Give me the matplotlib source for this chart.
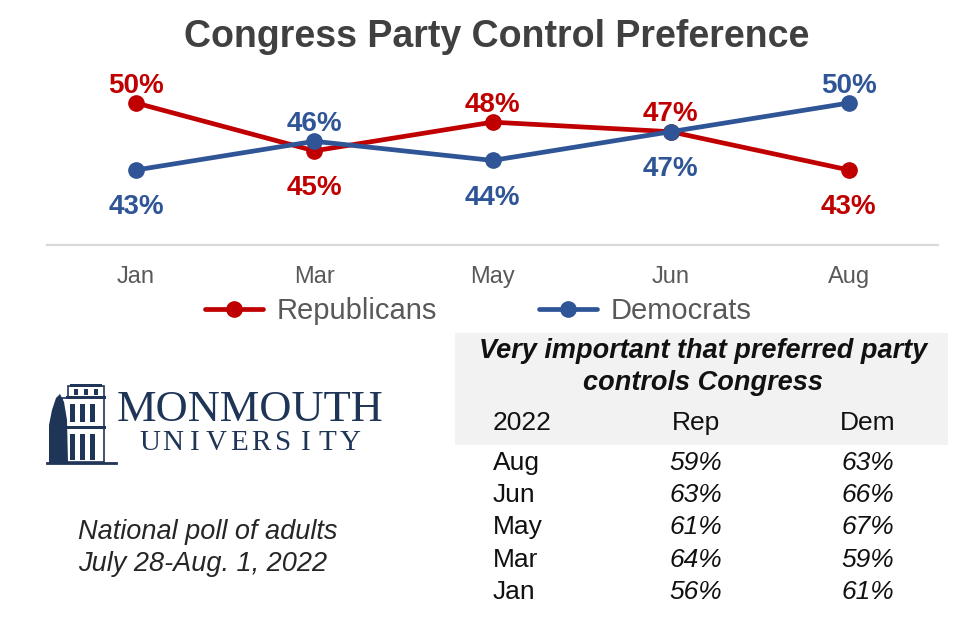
import matplotlib
matplotlib.use("Agg")
import matplotlib.pyplot as plt
from matplotlib.patches import Rectangle, Polygon
from matplotlib.lines import Line2D

# ---------------- data ----------------
months = ["Jan", "Mar", "May", "Jun", "Aug"]
republicans = [50, 45, 48, 47, 43]
democrats = [43, 46, 44, 47, 50]

chart_title = "Congress Party Control Preference"
table_title = "Very important that preferred party\ncontrols Congress"
table_header = ["2022", "Rep", "Dem"]
table_months = ["Aug", "Jun", "May", "Mar", "Jan"]
table_rep = [59, 63, 61, 64, 56]
table_dem = [63, 66, 67, 59, 61]
footnote = "National poll of adults\nJuly 28-Aug. 1, 2022"

# ---------------- style ----------------
W, H = 980, 624
RED = "#C00000"
BLUE = "#2F5597"
NAVY = "#1F3557"
GREY = "#595959"

plt.rcParams["font.family"] = ["Liberation Sans", "DejaVu Sans"]
fig = plt.figure(figsize=(W / 100, H / 100), dpi=100)
fig.patch.set_facecolor("white")


def fx(x):
    return x / W


def fy(y):
    return 1 - y / H


# ---------------- title ----------------
fig.text(fx(497), fy(37), chart_title, ha="center", va="center",
         fontsize=27, fontweight="bold", color="#404040")

# ---------------- line chart ----------------
ax_left, ax_right, ax_top, ax_bottom = 47, 938, 70, 245
ax = fig.add_axes([fx(ax_left), fy(ax_bottom),
                   (ax_right - ax_left) / W, (ax_bottom - ax_top) / H])
xs = list(range(len(months)))
ax.plot(xs, republicans, color=RED, lw=3.4, marker="o", ms=11,
        label="Republicans", zorder=3, solid_capstyle="round")
ax.plot(xs, democrats, color=BLUE, lw=3.4, marker="o", ms=11,
        label="Democrats", zorder=4, solid_capstyle="round")
ax.set_xlim(-0.5, len(months) - 0.5)
ax.set_ylim(35.16, 53.45)

for i in xs:
    r, d = republicans[i], democrats[i]
    r_above = r >= d
    for val, col, above in ((r, RED, r_above), (d, BLUE, not r_above)):
        off = 7.5 if above else -32
        ax.annotate(f"{val}%", (i, val), xytext=(0, off),
                    textcoords="offset points", ha="center", va="baseline",
                    fontsize=20, fontweight="bold", color=col, zorder=5)

ax.set_xticks(xs)
ax.set_xticklabels(months, fontsize=17, color=GREY)
ax.tick_params(axis="x", length=0, pad=15)
ax.set_yticks([])
for s in ("top", "left", "right"):
    ax.spines[s].set_visible(False)
ax.spines["bottom"].set_color("#D9D9D9")
ax.spines["bottom"].set_linewidth(1.6)
ax.patch.set_alpha(0)

handles, labels = ax.get_legend_handles_labels()
leg = fig.legend(handles, labels, loc="center", bbox_to_anchor=(fx(478), fy(311)),
                 ncol=2, frameon=False, fontsize=21, handlelength=2.0,
                 handletextpad=0.45, columnspacing=3.5, labelcolor=GREY)

# ---------------- table ----------------
fig.patches.append(Rectangle((fx(455), fy(445)), (948 - 455) / W, (445 - 333) / H,
                             transform=fig.transFigure, facecolor="#F2F2F2",
                             edgecolor="none", zorder=0))
fig.text(fx(703), fy(367), table_title, ha="center", va="center",
         fontsize=19.5, fontweight="bold", fontstyle="italic", color="#111111",
         linespacing=1.25)
col_x = [493, 696, 868]
col_ha = ["left", "center", "center"]
for cx, ha, txt in zip(col_x, col_ha, table_header):
    fig.text(fx(cx), fy(423), txt, ha=ha, va="center", fontsize=19, color="#111111")
row_y = [463, 495, 527, 560, 592]
for ry, m, rv, dv in zip(row_y, table_months, table_rep, table_dem):
    fig.text(fx(col_x[0]), fy(ry), m, ha="left", va="center", fontsize=19, color="#111111")
    fig.text(fx(col_x[1]), fy(ry), f"{rv}%", ha="center", va="center", fontsize=19,
             fontstyle="italic", color="#111111")
    fig.text(fx(col_x[2]), fy(ry), f"{dv}%", ha="center", va="center", fontsize=19,
             fontstyle="italic", color="#111111")

# ---------------- footnote ----------------
fig.text(fx(78), fy(548), footnote, ha="left", va="center", fontsize=19.5,
         fontstyle="italic", color="#262626", linespacing=1.3)

# ---------------- logo ----------------
def fig_poly(pts, **kw):
    fig.patches.append(Polygon([(fx(a), fy(b)) for a, b in pts], closed=True,
                               transform=fig.transFigure, **kw))


def fig_rect(x0, y0, x1, y1, **kw):
    fig.patches.append(Rectangle((fx(x0), fy(y1)), (x1 - x0) / W, (y1 - y0) / H,
                                 transform=fig.transFigure, **kw))


# building body
fig_rect(62, 398, 104, 462, facecolor="white", edgecolor=NAVY, lw=1.2)
fig_rect(68, 386, 104, 398, facecolor="white", edgecolor=NAVY, lw=1.2)
fig_rect(66, 396, 106, 399, facecolor=NAVY, edgecolor="none")
fig_rect(60, 426, 106, 429, facecolor=NAVY, edgecolor="none")
fig_rect(70, 384, 102, 387, facecolor=NAVY, edgecolor="none")
for wx in (70, 80, 90):
    fig_rect(wx, 404, wx + 5, 422, facecolor=NAVY, edgecolor="none")
    fig_rect(wx, 434, wx + 5, 460, facecolor=NAVY, edgecolor="none")
for wx in (74, 84, 94):
    fig_rect(wx, 389, wx + 4, 395, facecolor=NAVY, edgecolor="none")
# tree
fig_poly([(49, 463), (49, 425), (52, 410), (56, 398), (60, 394), (64, 402),
          (67, 420), (68, 463)], facecolor=NAVY, edgecolor="none")
fig.lines.append(Line2D([fx(47), fx(116)], [fy(463), fy(463)],
                        transform=fig.transFigure, color=NAVY, lw=2))

fig.text(fx(250), fy(410), "MONMOUTH", ha="center", va="center", fontsize=32,
         family=["Liberation Serif", "DejaVu Serif"], color=NAVY)
uni = "UNIVERSITY"
for k, ch in enumerate(uni):
    cx = 150 + k * (350 - 150) / (len(uni) - 1)
    fig.text(fx(cx), fy(443), ch, ha="center", va="center", fontsize=21,
             family=["Liberation Serif", "DejaVu Serif"], color=NAVY)

fig.savefig("out.png", dpi=100, facecolor="white")
